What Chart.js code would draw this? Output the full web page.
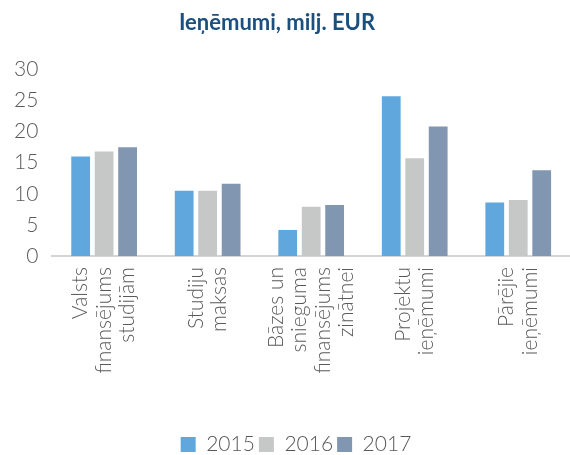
<!DOCTYPE html>
<html>
<head>
<meta charset="utf-8">
<script src="https://cdn.jsdelivr.net/npm/chart.js@4.4.0/dist/chart.umd.min.js"></script>
<style>
  body { margin: 0; background: #fff; }
  #wrap { width: 570px; height: 455px; }
</style>
</head>
<body>
<div id="wrap"><canvas id="chartInfo"></canvas></div>
<script>
// data
var categories = [
    ["Valsts", "finansējums", "studijām"],
    ["Studiju", "maksas"],
    ["Bāzes un", "snieguma", "finansējums", "zinātnei"],
    ["Projektu", "ieņēmumi"],
    ["Pārējie", "ieņēmumi"]
]
var years = ["2015", "2016", "2017"]
var values2015 = [16.0, 10.5, 4.2, 25.7, 8.6]
var values2016 = [16.8, 10.5, 7.9, 15.7, 9.0]
var values2017 = [17.5, 11.6, 8.2, 20.8, 13.8]
var yTicks = [0, 5, 10, 15, 20, 25, 30]

var colours = ["#5fa7dc", "#c6c7c7", "#8196b0"]
var font = "Lato, 'Open Sans', sans-serif"
var grey = "#595959"

//rotated multi-line labels, centred on their tick
var centredLabels = {
    id: 'centredLabels',
    afterLayout: function (chart) {
        //nudge title left and legend right like in the original
        chart.titleBlock.left -= 8
        chart.titleBlock.right -= 8
        chart.legend.left += 11
        chart.legend.right += 11
    },
    afterDraw: function (chart) {
        var xs = chart.scales.x
        var c = chart.ctx
        c.save()
        c.fillStyle = grey
        c.font = "300 21px " + font
        for (var i = 0; i < categories.length; i++) {
            var lines = categories[i]
            var n = lines.length
            c.save()
            c.translate(xs.getPixelForTick(i), xs.top + 11)
            c.rotate(-Math.PI / 2)
            c.textAlign = 'right'
            c.textBaseline = 'middle'
            for (var j = 0; j < n; j++) {
                c.fillText(lines[j], 0, (j - (n - 1) / 2) * 23.5)
            }
            c.restore()
        }
        c.restore()
    }
}

var ctx = document.getElementById("chartInfo").getContext('2d')
var myChart = new Chart(ctx, {
    type: 'bar',
    data: {
        labels: categories,
        datasets: [
            { label: years[0], data: values2015, backgroundColor: colours[0] },
            { label: years[1], data: values2016, backgroundColor: colours[1] },
            { label: years[2], data: values2017, backgroundColor: colours[2] }
        ]
    },
    plugins: [centredLabels],
    options: {
        responsive: true,
        maintainAspectRatio: false,
        animation: false,
        layout: { padding: { left: 0, right: 0, top: 4, bottom: -10 } },
        datasets: { bar: { categoryPercentage: 0.68, barPercentage: 0.8 } },
        plugins: {
            title: {
                display: true,
                text: "Ieņēmumi, milj. EUR",
                color: "#1b4f7e",
                font: { family: font, size: 22, weight: 'bold' },
                padding: { top: 6, bottom: 33 }
            },
            legend: {
                position: 'bottom',
                labels: {
                    color: grey,
                    font: { family: font, size: 21, weight: 300 },
                    boxWidth: 15,
                    boxHeight: 15,
                    padding: 4
                }
            },
            tooltip: { enabled: false }
        },
        scales: {
            x: {
                grid: { display: false, drawTicks: false },
                border: { color: "#d4d4d4", width: 2 },
                ticks: { display: false },
                afterFit: function (scale) { scale.height = 174 }
            },
            y: {
                min: 0,
                max: 30,
                afterBuildTicks: function (scale) {
                    scale.ticks = yTicks.map(function (v) { return { value: v } })
                },
                grid: { display: false, drawTicks: false },
                border: { display: false },
                ticks: {
                    color: grey,
                    font: { family: font, size: 21, weight: 300 },
                    padding: 14
                }
            }
        }
    }
})
</script>
</body>
</html>
